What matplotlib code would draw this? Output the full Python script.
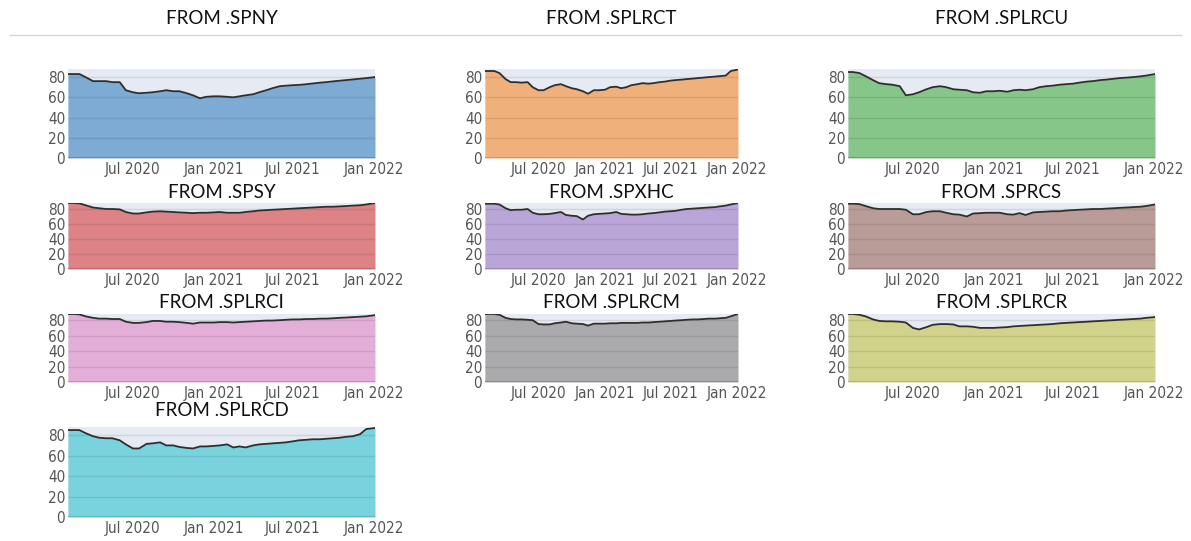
import numpy as np
import matplotlib
matplotlib.use("Agg")
import matplotlib.pyplot as plt
import matplotlib.dates as mdates

# semi-monthly sample dates
dates = np.array([
    "2020-02-04", "2020-02-15", "2020-03-01", "2020-03-15", "2020-04-01", "2020-04-15",
    "2020-05-01", "2020-05-15", "2020-06-01", "2020-06-15", "2020-07-01", "2020-07-15",
    "2020-08-01", "2020-08-15", "2020-09-01", "2020-09-15", "2020-10-01", "2020-10-15",
    "2020-11-01", "2020-11-15", "2020-12-01", "2020-12-15", "2021-01-01", "2021-01-15",
    "2021-02-01", "2021-02-15", "2021-03-01", "2021-03-15", "2021-04-01", "2021-04-15",
    "2021-05-01", "2021-05-15", "2021-06-01", "2021-06-15", "2021-07-01", "2021-07-15",
    "2021-08-01", "2021-08-15", "2021-09-01", "2021-09-15", "2021-10-01", "2021-10-15",
    "2021-11-01", "2021-11-15", "2021-12-01", "2021-12-15", "2022-01-04",
], dtype="datetime64[D]")

spny = [83, 83, 83, 80, 76, 76, 76, 75, 75, 67, 65, 64, 64.5, 65, 66, 67, 66, 66,
        64, 62, 59, 60.5, 61, 61, 60.5, 60, 61, 62, 63, 65, 67, 69, 71, 71.5, 72, 72.3,
        73, 73.7, 74.5, 75, 75.8, 76.4, 77.1, 77.7, 78.4, 79, 80]
splrct = [86, 86, 86, 84, 78, 75, 75, 74.5, 75, 70, 67, 67, 70, 72, 73, 71, 69, 68,
          66, 63.5, 67, 67, 67.5, 70, 70.5, 69, 70, 72, 73, 74, 73.5, 74, 75, 75.5, 76.5, 77,
          77.5, 78, 78.5, 79, 79.5, 80, 80.5, 81, 81.5, 86, 87.5]
splrcu = [85, 85, 84, 81, 77, 74, 73, 72.5, 71, 62, 63, 65, 68, 70, 71, 70, 68, 67.5,
          67, 65, 64.5, 66, 66, 66.5, 65.5, 67, 67.5, 67, 68, 70, 71, 71.5, 72.5, 73, 73.5, 74.5,
          75.5, 76, 77, 77.5, 78.3, 79, 79.5, 80, 80.7, 81.5, 83]
spsy = [88, 88, 87.5, 85, 82, 81, 80, 80, 79.5, 76, 74, 74, 75.5, 76.5, 77, 76.5, 76, 75.5,
        75, 74.5, 75, 75, 75.5, 76, 75, 75, 75, 76, 77, 78, 78.5, 79, 79.5, 80, 80.5, 81,
        81.5, 82, 82.5, 83, 83, 83.5, 84, 84.5, 85, 86, 88]
spxhc = [87, 87, 87, 86, 81, 78.5, 79, 79, 80, 75, 73, 73, 73.5, 74.5, 76, 72, 71, 70.5,
         66, 71, 73, 73.5, 74, 74.5, 76, 73.5, 73, 72.5, 72.5, 73, 74, 74.5, 75.5, 76.5, 77, 77.5,
         79, 80, 80.5, 81, 81.5, 82, 82.5, 83.5, 84.5, 86, 88]
sprcs = [87, 87, 86.5, 84, 81, 80, 80, 80, 80, 79, 73, 73, 76, 77, 77, 75, 73, 72.5,
         70, 74, 74.5, 75, 75, 75, 73, 72.5, 74.5, 72, 75.5, 76, 76.5, 77, 77, 78, 78.5, 79,
         79.5, 80, 80, 80.5, 81, 81.5, 82, 82.5, 83, 84, 86]
splrci = [88, 88, 87.5, 85, 83, 82, 82, 81.5, 81.5, 78, 76.5, 76.5, 77.5, 79, 79, 78, 78, 77.5,
          76.5, 75.5, 77, 77, 77, 77.5, 77.5, 77, 77.5, 78, 78.5, 79, 79.5, 79.5, 80, 80.5, 81, 81,
          81.5, 81.5, 82, 82, 82.5, 83, 83.5, 84, 84.5, 85, 86.5]
splrcm = [88, 88, 88, 87, 83, 81.5, 81, 81, 80.5, 80, 75, 74.5, 74.5, 76, 77, 78, 76, 75.5,
          75, 73, 75.5, 75.5, 75.5, 76, 76, 76.5, 76.5, 76.5, 76.5, 77, 77, 77.5, 78, 78.5, 79, 79.5,
          80, 80.5, 81, 81, 81.5, 82, 82, 82.5, 83, 85, 88]
splrcr = [88, 88, 87, 85, 81, 79, 78.5, 78.5, 78, 77, 70, 68, 71, 74, 75, 75, 74.5, 72,
          72, 71.5, 70, 70, 70, 70.5, 71, 72, 72.5, 73, 73.5, 74, 74.5, 75, 76, 76.5, 77, 77.5,
          78, 78.5, 79, 79.5, 80, 80.5, 81, 81.5, 82, 83, 84]
splrcd = [85, 85, 85, 82, 79, 77.5, 77, 77, 75, 71, 67, 67, 71.5, 72, 73, 70, 70, 68.5,
          67.5, 67, 69, 69, 69.5, 70, 71, 68, 69, 68, 70, 71, 71.5, 72, 72.5, 73, 74, 75,
          75.5, 76, 76, 76.5, 77, 77.5, 78.5, 79, 81, 86, 87]

titles = ["FROM .SPNY", "FROM .SPLRCT", "FROM .SPLRCU",
          "FROM .SPSY", "FROM .SPXHC", "FROM .SPRCS",
          "FROM .SPLRCI", "FROM .SPLRCM", "FROM .SPLRCR",
          "FROM .SPLRCD"]
series = [spny, splrct, splrcu, spsy, spxhc, sprcs, splrci, splrcm, splrcr, splrcd]
fills = ["#7dabd3", "#f0b07b", "#86c689", "#dd8285", "#b9a5d7", "#b99c97",
         "#e3afd9", "#aaaaac", "#d2d38b", "#78d3df"]
edges = ["#5f8fbb", "#d9925a", "#62a867", "#c46468", "#9b86bd", "#9a7d78",
         "#c98fbf", "#8a8a8c", "#b5b66a", "#56b6c4"]

tick_dates = np.array(["2020-07-01", "2021-01-01", "2021-07-01", "2022-01-01"], dtype="datetime64[D]")
tick_labels = ["Jul 2020", "Jan 2021", "Jul 2021", "Jan 2022"]
yticks = [0, 20, 40, 60, 80]

W, H = 1191, 541
col_x = [(68, 375), (485, 738), (848, 1155)]
row_y = [(69, 158), (203, 269), (314, 382), (427, 517)]
title_y = [18, 192, 302, 411]

plt.rcParams["font.family"] = ["DejaVu Sans"]
fig = plt.figure(figsize=(W / 100, H / 100), dpi=100)

# separator under the top titles
fig.add_artist(plt.Line2D([10 / W, 1181 / W], [1 - 35 / H, 1 - 35 / H],
                          color="#d6d6d6", lw=1))

for i, (name, vals) in enumerate(zip(titles, series)):
    r, c = divmod(i, 3)
    x0, x1 = col_x[c]
    y0, y1 = row_y[r]
    ax = fig.add_axes([x0 / W, 1 - y1 / H, (x1 - x0) / W, (y1 - y0) / H])
    ax.set_facecolor("#e6eaf2")
    x = mdates.date2num(dates)
    ax.fill_between(x, 0, vals, color=fills[i], lw=0, zorder=1)
    ax.plot(x, vals, color="#2e2e2e", lw=1.3, zorder=3)
    for yv in [20, 40, 60, 80]:
        ax.axhline(yv, color="#000000", alpha=0.09, lw=1, zorder=2)
    ax.axhline(0, color=edges[i], lw=2.2, zorder=4)
    ax.set_xlim(mdates.date2num(np.datetime64("2020-02-04")),
                mdates.date2num(np.datetime64("2022-01-04")))
    ax.set_ylim(0, 88)
    ax.set_xticks(mdates.date2num(tick_dates))
    ax.set_xticklabels(tick_labels)
    ax.set_yticks(yticks)
    ax.set_yticklabels([str(v) for v in yticks])
    ax.tick_params(length=0, labelsize=11, labelcolor="#555555")
    ax.tick_params(axis="x", pad=3)
    ax.tick_params(axis="y", pad=2)
    for lab in ax.get_xticklabels() + ax.get_yticklabels():
        lab.set_fontstretch("condensed")
    for s in ax.spines.values():
        s.set_visible(False)
    fig.text((x0 + x1) / 2 / W, 1 - title_y[r] / H, name, ha="center", va="center",
             fontsize=13.5, family=["Lato", "DejaVu Sans"], color="#111111")

fig.savefig("out.png", dpi=100, facecolor="white")
